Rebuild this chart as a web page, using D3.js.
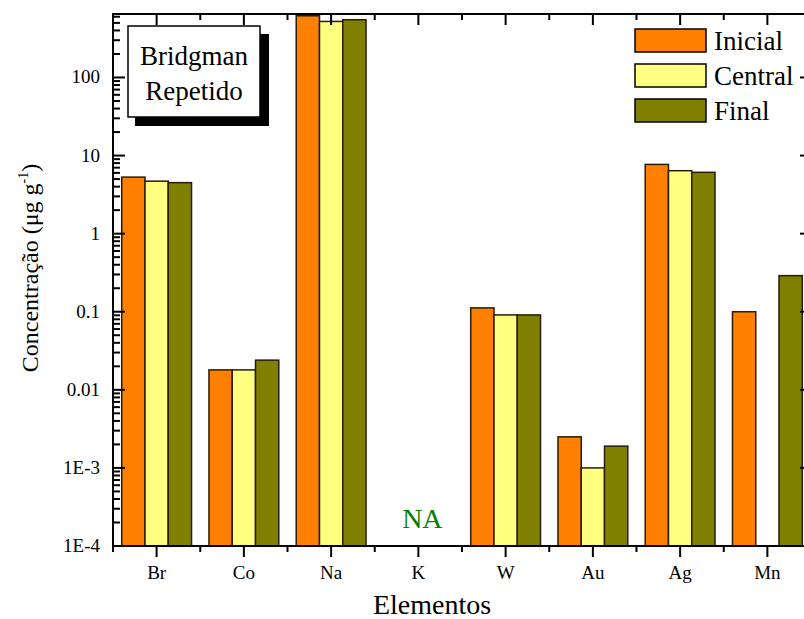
<!DOCTYPE html>
<html>
<head>
<meta charset="utf-8">
<script src="https://cdn.jsdelivr.net/npm/d3@7"></script>
<style>
  body { margin: 0; background: #fff; }
</style>
</head>
<body>
<div id="grafico"></div>
<script>
// Concentração por elemento (Bridgman repetido)
const elementos = ["Br", "Co", "Na", "K", "W", "Au", "Ag", "Mn"];
const series = ["Inicial", "Central", "Final"];
const cores = ["#FF8000", "#FFFF80", "#808000"];
const inicial = [5.3, 0.018, 617, null, 0.112, 0.0025, 7.7, 0.1];
const central = [4.7, 0.018, 522, null, 0.091, 0.001, 6.4, null];
const final_ = [4.5, 0.024, 549, null, 0.091, 0.0019, 6.1, 0.29];
const yTicks = [1e-4, 1e-3, 0.01, 0.1, 1, 10, 100];
const yTickLabels = ["1E-4", "1E-3", "0.01", "0.1", "1", "10", "100"];

const valores = [inicial, central, final_];
const data = [];
elementos.forEach((e, i) => {
    series.forEach((s, j) => {
        if (valores[j][i] != null) data.push({ el: e, serie: s, v: valores[j][i] });
    });
});

const width = 804;
const height = 619;
const margin = { top: 14, right: -7, bottom: 73, left: 113 };
const fonte = "Liberation Serif";

const svg = d3.select("#grafico")
    .append("svg")
    .attr("width", width)
    .attr("height", height)
    .attr("font-family", fonte);

// banda completa (ticks menores nas bordas)
const xb = d3.scaleBand()
    .domain(elementos)
    .range([margin.left, width - margin.right]);

const x1 = d3.scaleBand()
    .domain(series)
    .range([0, xb.bandwidth() * 0.8]);

const y = d3.scaleLog()
    .domain([1e-4, 650])
    .range([height - margin.bottom, margin.top]);

const cor = d3.scaleOrdinal().domain(series).range(cores);

// barras
svg.append("g")
    .selectAll("rect")
    .data(data)
    .enter()
    .append("rect")
    .attr("x", d => xb(d.el) + xb.bandwidth() * 0.1 + x1(d.serie))
    .attr("y", d => y(d.v))
    .attr("width", x1.bandwidth())
    .attr("height", d => y(1e-4) - y(d.v))
    .attr("fill", d => cor(d.serie))
    .attr("stroke", "#2a1a08")
    .attr("stroke-width", 1.5);

// NA para K
svg.append("text")
    .attr("x", xb("K") + xb.bandwidth() / 2 + 4)
    .attr("y", 528)
    .attr("text-anchor", "middle")
    .attr("fill", "#008000")
    .attr("font-family", fonte)
    .style("font-size", "28px")
    .text("NA");

const x0 = margin.left, x2 = width - margin.right;
const y0 = height - margin.bottom, y2 = margin.top;

// ticks menores do eixo y
const minor = [];
for (let p = -4; p <= 2; p++) {
    for (let k = 2; k <= 9; k++) {
        const v = k * Math.pow(10, p);
        if (v <= 650) minor.push(v);
    }
}

const eixo = svg.append("g").attr("stroke", "#000").attr("stroke-width", 2);

// esquerda: ticks para dentro
eixo.selectAll(".ym").data(minor).enter().append("line")
    .attr("x1", x0).attr("x2", x0 + 7)
    .attr("y1", d => y(d)).attr("y2", d => y(d));
eixo.selectAll(".yM").data(yTicks).enter().append("line")
    .attr("x1", x0).attr("x2", x0 + 12)
    .attr("y1", d => y(d)).attr("y2", d => y(d));
// direita: só ticks maiores
eixo.selectAll(".yR").data(yTicks).enter().append("line")
    .attr("x1", x2).attr("x2", x2 - 11)
    .attr("y1", d => y(d)).attr("y2", d => y(d));

// inferior e superior
const bordas = elementos.map(e => xb(e)).concat([x2]);
const meios = elementos.map(e => xb(e) + xb.bandwidth() / 2);
eixo.selectAll(".xm").data(bordas).enter().append("line")
    .attr("x1", d => d).attr("x2", d => d)
    .attr("y1", y0).attr("y2", y0 + 6);
eixo.selectAll(".xM").data(meios).enter().append("line")
    .attr("x1", d => d).attr("x2", d => d)
    .attr("y1", y0).attr("y2", y0 + 11);
eixo.selectAll(".xmt").data(bordas).enter().append("line")
    .attr("x1", d => d).attr("x2", d => d)
    .attr("y1", y2).attr("y2", y2 + 6);
eixo.selectAll(".xMt").data(meios).enter().append("line")
    .attr("x1", d => d).attr("x2", d => d)
    .attr("y1", y2).attr("y2", y2 + 11);

// moldura
svg.append("rect")
    .attr("x", x0).attr("y", y2)
    .attr("width", x2 - x0).attr("height", y0 - y2)
    .attr("fill", "none")
    .attr("stroke", "#000")
    .attr("stroke-width", 2);

// rótulos dos ticks
svg.append("g").selectAll("text")
    .data(yTicks).enter().append("text")
    .attr("x", x0 - 13)
    .attr("y", d => y(d) + 6)
    .attr("text-anchor", "end")
    .attr("font-family", fonte)
    .style("font-size", "19px")
    .text((d, i) => yTickLabels[i]);

svg.append("g").selectAll("text")
    .data(elementos).enter().append("text")
    .attr("x", d => xb(d) + xb.bandwidth() / 2)
    .attr("y", 579)
    .attr("text-anchor", "middle")
    .attr("font-family", fonte)
    .style("font-size", "19px")
    .text(d => d);

// títulos dos eixos
svg.append("text")
    .attr("x", 432)
    .attr("y", 614)
    .attr("text-anchor", "middle")
    .attr("font-family", fonte)
    .style("font-size", "28px")
    .text("Elementos");

const yt = svg.append("text")
    .attr("transform", "translate(38,268) rotate(-90)")
    .attr("text-anchor", "middle")
    .attr("font-family", fonte)
    .style("font-size", "24px");
yt.append("tspan").text("Concentração (μg g");
yt.append("tspan").attr("dy", -10).style("font-size", "14px").text("-1");
yt.append("tspan").attr("dy", 10).text(")");

// caixa de texto com sombra
svg.append("rect")
    .attr("x", 135).attr("y", 34).attr("width", 134).attr("height", 92)
    .attr("fill", "#000");
svg.append("rect")
    .attr("x", 128).attr("y", 26).attr("width", 132).attr("height", 91)
    .attr("fill", "#fff").attr("stroke", "#000").attr("stroke-width", 1.5);
svg.append("text")
    .attr("x", 194).attr("y", 65)
    .attr("text-anchor", "middle")
    .attr("font-family", fonte)
    .style("font-size", "27px")
    .text("Bridgman");
svg.append("text")
    .attr("x", 194).attr("y", 100)
    .attr("text-anchor", "middle")
    .attr("font-family", fonte)
    .style("font-size", "27px")
    .text("Repetido");

// legenda
const leg = svg.append("g");
series.forEach((s, i) => {
    leg.append("rect")
        .attr("x", 635).attr("y", 29 + i * 35)
        .attr("width", 71).attr("height", 23)
        .attr("fill", cor(s))
        .attr("stroke", "#000").attr("stroke-width", 1.5);
    leg.append("text")
        .attr("x", 714).attr("y", 50 + i * 35)
        .attr("font-family", fonte)
        .style("font-size", "27px")
        .text(s);
});
</script>
</body>
</html>
